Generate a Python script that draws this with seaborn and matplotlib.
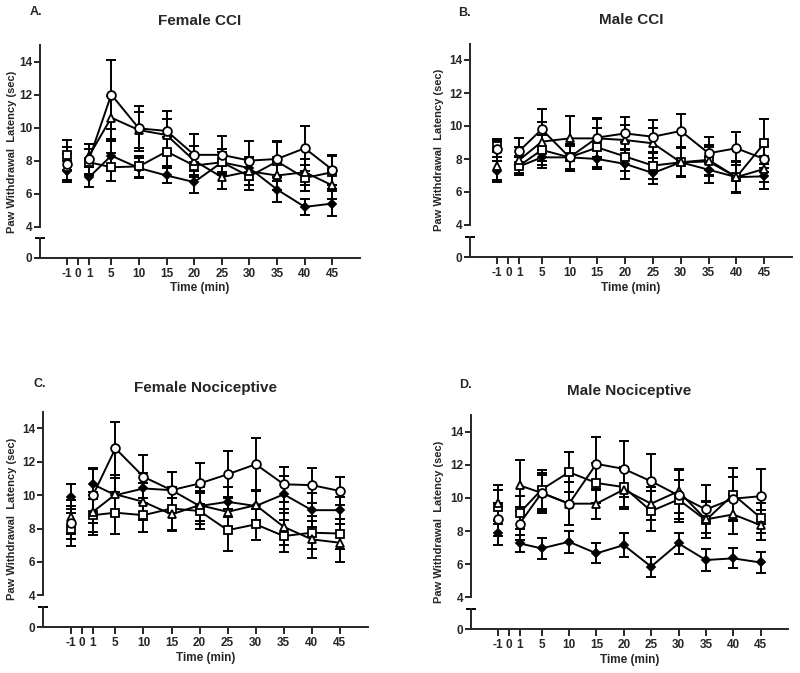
import numpy as np
import pandas as pd
import seaborn as sns
import matplotlib.pyplot as plt

# time points (min); baseline "-1" is drawn alone, not joined to the rest
times = [-1, 1, 5, 10, 15, 20, 25, 30, 35, 40, 45]
tick_values = [-1, 0, 1, 5, 10, 15, 20, 25, 30, 35, 40, 45]
y_ticks = [4, 6, 8, 10, 12, 14]

# A. Female CCI
fcci_diamond = [7.35, 7.0, 8.3, 7.55, 7.1, 6.7, 7.9, 7.55, 6.25, 5.2, 5.4]
fcci_diamond_err = [0.65, 0.6, 0.9, 0.6, 0.45, 0.65, 0.6, 0.65, 0.75, 0.5, 0.75]
fcci_circle = [7.8, 8.1, 12.0, 9.95, 9.8, 8.35, 8.35, 8.0, 8.1, 8.75, 7.45]
fcci_circle_err = [1.0, 0.9, 2.1, 1.35, 1.2, 1.25, 1.15, 1.2, 1.1, 1.35, 0.9]
fcci_triangle = [7.6, 8.3, 10.6, 9.85, 9.55, 8.0, 7.0, 7.35, 7.1, 7.3, 6.5]
fcci_triangle_err = [0.8, 0.7, 1.3, 1.1, 1.0, 0.9, 0.7, 0.8, 0.9, 0.8, 0.8]
fcci_square = [8.35, 7.9, 7.6, 7.65, 8.55, 7.7, 7.9, 7.05, 7.95, 6.95, 7.3]
fcci_square_err = [0.9, 0.8, 0.85, 0.65, 0.9, 0.7, 0.8, 0.85, 1.2, 0.8, 1.0]

# B. Male CCI
mcci_diamond = [7.25, 7.55, 8.1, 8.1, 8.0, 7.7, 7.15, 7.8, 7.35, 6.9, 6.95]
mcci_diamond_err = [0.65, 0.55, 0.65, 0.7, 0.6, 0.9, 0.65, 0.85, 0.8, 0.95, 0.75]
mcci_circle = [8.6, 8.5, 9.8, 8.1, 9.3, 9.55, 9.35, 9.7, 8.35, 8.65, 8.0]
mcci_circle_err = [0.5, 0.8, 1.25, 0.8, 1.2, 1.0, 1.0, 1.0, 1.0, 1.0, 0.8]
mcci_triangle = [7.6, 7.95, 9.05, 9.25, 9.25, 9.15, 8.95, 7.8, 7.85, 6.9, 7.4]
mcci_triangle_err = [0.9, 0.8, 1.2, 1.35, 1.2, 0.9, 0.9, 0.9, 0.9, 0.9, 0.8]
mcci_square = [8.8, 7.6, 8.55, 8.1, 8.7, 8.15, 7.6, 7.8, 7.95, 6.9, 8.95]
mcci_square_err = [0.4, 0.6, 0.9, 0.8, 1.2, 0.9, 0.8, 0.9, 0.9, 0.9, 1.5]

# C. Female Nociceptive
fnoc_diamond = [9.9, 10.65, 10.0, 10.4, 10.3, 9.35, 9.6, 9.35, 10.05, 9.1, 9.1]
fnoc_diamond_err = [0.75, 0.9, 1.2, 0.9, 1.1, 0.9, 0.9, 0.95, 1.1, 1.0, 0.8]
fnoc_circle = [8.35, 10.0, 12.8, 11.1, 10.3, 10.7, 11.25, 11.85, 10.65, 10.6, 10.25]
fnoc_circle_err = [1.0, 1.65, 1.6, 1.3, 1.1, 1.25, 1.4, 1.6, 1.05, 1.05, 0.85]
fnoc_triangle = [8.7, 9.0, 10.05, 9.6, 8.85, 9.4, 9.0, 9.4, 8.1, 7.35, 7.15]
fnoc_triangle_err = [1.0, 1.2, 1.0, 1.1, 1.0, 1.1, 0.9, 0.9, 1.1, 1.1, 1.15]
fnoc_square = [7.95, 8.8, 8.95, 8.8, 9.2, 9.05, 7.9, 8.25, 7.55, 7.75, 7.7]
fnoc_square_err = [1.0, 1.2, 1.25, 1.0, 1.3, 1.1, 1.25, 0.95, 0.95, 1.0, 0.9]

# D. Male Nociceptive
mnoc_diamond = [7.9, 7.25, 6.95, 7.35, 6.65, 7.15, 5.85, 7.25, 6.25, 6.35, 6.1]
mnoc_diamond_err = [0.75, 0.5, 0.65, 0.65, 0.6, 0.7, 0.6, 0.65, 0.65, 0.6, 0.65]
mnoc_circle = [8.7, 8.45, 10.3, 9.65, 12.05, 11.75, 11.0, 10.15, 9.3, 9.95, 10.1]
mnoc_circle_err = [1.0, 1.0, 1.1, 1.3, 1.6, 1.7, 1.65, 1.6, 1.45, 1.3, 1.65]
mnoc_triangle = [9.7, 10.75, 10.3, 9.65, 9.65, 10.5, 9.65, 10.4, 8.7, 9.0, 8.35]
mnoc_triangle_err = [1.1, 1.55, 1.2, 1.3, 0.9, 1.2, 1.0, 1.3, 1.1, 1.2, 0.9]
mnoc_square = [9.45, 9.1, 10.5, 11.55, 10.9, 10.65, 9.2, 9.9, 8.65, 10.2, 8.8]
mnoc_square_err = [1.0, 1.0, 1.2, 1.2, 1.2, 1.2, 1.2, 1.2, 1.1, 1.6, 0.9]

sns.set_style("ticks")
plt.rcParams['font.family'] = ['Liberation Sans', 'DejaVu Sans']
plt.rcParams['font.weight'] = 'bold'

W, H = 800, 673
fig = plt.figure(figsize=(W / 100, H / 100), dpi=100)


def axis_pos(t):
    # the axis squeezes "-1" and "0" to the left of 1
    return t if t > 0 else 2 * t - 1


markers = {"diamond": ("D", "black", 4.5),
           "circle": ("o", "white", 6.3),
           "triangle": ("^", "white", 6.0),
           "square": ("s", "white", 5.3)}


def panel(px, letter, title, letter_xy, title_y, ylab_x, data):
    left, right, top, y4, low_top, bottom = px
    ax = fig.add_axes([left / W, 1 - y4 / H, (right - left) / W, (y4 - top) / H])
    ax_low = fig.add_axes([left / W, 1 - bottom / H, (right - left) / W, (bottom - low_top) / H])
    scale = (y4 - top) / 11.0  # px per unit
    low_max = (bottom - low_top) / scale

    for name, (vals, errs) in data.items():
        mk, face, ms = markers[name]
        df = pd.DataFrame({"x": [axis_pos(t) for t in times], "y": vals, "e": errs})
        ax.errorbar(df["x"], df["y"], yerr=df["e"], fmt="none", ecolor="black",
                    elinewidth=1.4, capsize=3.5, capthick=1.4, zorder=2)
        base = df[df["x"] < 0]
        rest = df[df["x"] > 0]
        for part in (base, rest):
            sns.lineplot(data=part, x="x", y="y", ax=ax, color="black", lw=1.4,
                         marker=mk, markersize=ms, markerfacecolor=face,
                         markeredgecolor="black", markeredgewidth=1.3,
                         errorbar=None, sort=True, zorder=3)

    for a in (ax, ax_low):
        a.set_xlim(-7.9, 50)
        a.set_xlabel("")
        a.set_ylabel("")
        a.set_facecolor("none")
        for s in ("top", "right"):
            a.spines[s].set_visible(False)
        a.spines["left"].set_linewidth(1.4)
        a.tick_params(width=1.4, length=4, labelsize=8.5, pad=1.5)

    ax.set_ylim(4, 15)
    ax.set_yticks(y_ticks)
    ax.spines["bottom"].set_visible(False)
    ax.set_xticks([])

    ax_low.set_ylim(0, low_max)
    ax_low.set_yticks([0])
    ax_low.spines["bottom"].set_linewidth(1.4)
    ax_low.set_xticks([axis_pos(t) for t in tick_values])
    ax_low.set_xticklabels([str(t) for t in tick_values])
    ax_low.tick_params(axis="x", length=5, pad=2)
    ax_low.plot([0], [1], marker="_", ms=7, mew=1.4, color="black",
                transform=ax_low.transAxes, clip_on=False)
    ax_low.set_xlabel("Time (min)", fontsize=8.5, fontweight="bold", labelpad=2)

    fig.text(letter_xy[0] / W, 1 - letter_xy[1] / H, letter, fontsize=9,
             fontweight="bold", va="center", ha="left")
    fig.text((left + right) / 2 / W, 1 - title_y / H, title, fontsize=11,
             fontweight="bold", va="center", ha="center")
    fig.text(ylab_x / W, 1 - (top + bottom) / 2 / H, "Paw Withdrawal  Latency (sec)",
             fontsize=8, fontweight="bold", rotation=90, va="center", ha="center")


panel((40, 360, 45, 226.7, 238, 258), "A.", "Female CCI", (30, 12), 21, 12,
      {"diamond": (fcci_diamond, fcci_diamond_err), "square": (fcci_square, fcci_square_err),
       "triangle": (fcci_triangle, fcci_triangle_err), "circle": (fcci_circle, fcci_circle_err)})
panel((470, 792, 43.5, 225, 236.7, 257), "B.", "Male CCI", (458, 13), 20, 439,
      {"diamond": (mcci_diamond, mcci_diamond_err), "square": (mcci_square, mcci_square_err),
       "triangle": (mcci_triangle, mcci_triangle_err), "circle": (mcci_circle, mcci_circle_err)})
panel((43, 368, 411.7, 595.3, 606.7, 627), "C.", "Female Nociceptive", (33, 384), 388, 12,
      {"diamond": (fnoc_diamond, fnoc_diamond_err), "square": (fnoc_square, fnoc_square_err),
       "triangle": (fnoc_triangle, fnoc_triangle_err), "circle": (fnoc_circle, fnoc_circle_err)})
panel((471, 788, 415, 597.3, 609.3, 629.3), "D.", "Male Nociceptive", (459, 385), 391, 439,
      {"diamond": (mnoc_diamond, mnoc_diamond_err), "square": (mnoc_square, mnoc_square_err),
       "triangle": (mnoc_triangle, mnoc_triangle_err), "circle": (mnoc_circle, mnoc_circle_err)})

fig.savefig("out.png", dpi=100)
